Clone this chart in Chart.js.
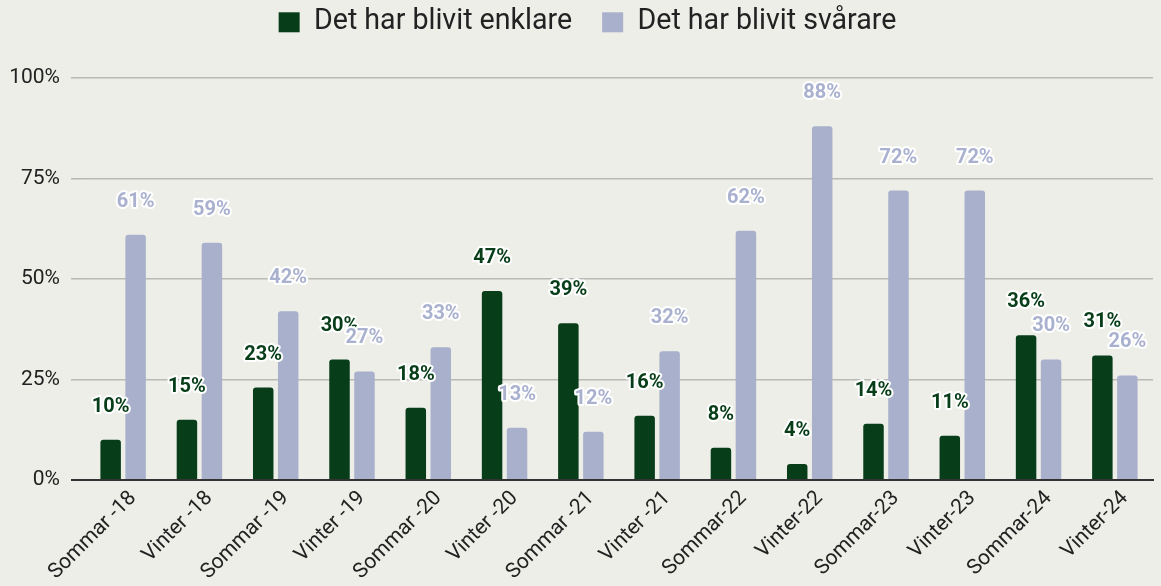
<!DOCTYPE html>
<html>
<head>
<meta charset="utf-8">
<script src="https://cdn.jsdelivr.net/npm/chart.js@4"></script>
<style>
  html, body { margin: 0; padding: 0; background: #eeeee8; }
  #wrap { width: 1161px; height: 586px; }
</style>
</head>
<body>
<div id="wrap"><canvas id="c"></canvas></div>
<script>
const categories = [
  "Sommar -18", "Vinter -18", "Sommar -19", "Vinter -19", "Sommar -20", "Vinter -20",
  "Sommar -21", "Vinter -21", "Sommar-22", "Vinter-22", "Sommar-23", "Vinter-23",
  "Sommar-24", "Vinter-24"
];
const enklare = [10, 15, 23, 30, 18, 47, 39, 16, 8, 4, 14, 11, 36, 31];
const svarare = [61, 59, 42, 27, 33, 13, 12, 32, 62, 88, 72, 72, 30, 26];
const yTicks = [0, 25, 50, 75, 100];

const green = "#073d18";
const lavender = "#a8b0cc";

// value labels with a white halo, drawn above each bar
const valueLabels = {
  id: "valueLabels",
  afterDatasetsDraw(chart) {
    const ctx = chart.ctx;
    ctx.save();
    ctx.font = "bold 20px Roboto";
    ctx.textAlign = "center";
    ctx.textBaseline = "middle";
    ctx.lineJoin = "round";
    chart.data.datasets.forEach((ds, i) => {
      const meta = chart.getDatasetMeta(i);
      meta.data.forEach((bar, j) => {
        const txt = ds.data[j] + "%";
        const y = bar.y - 33;
        ctx.strokeStyle = "#ffffff";
        ctx.lineWidth = 4;
        ctx.strokeText(txt, bar.x, y);
        ctx.fillStyle = ds.labelColor;
        ctx.fillText(txt, bar.x, y);
      });
    });
    ctx.restore();
  }
};

// taller legend box so the plot starts lower, nudged a bit right
const legendTweak = {
  id: "legendTweak",
  beforeInit(chart) {
    const fit = chart.legend.fit;
    chart.legend.fit = function () {
      fit.bind(chart.legend)();
      this.height = 100;
    };
  },
  afterLayout(chart) {
    chart.legend.left += 11;
    chart.legend.right += 11;
  }
};

new Chart(document.getElementById("c"), {
  type: "bar",
  data: {
    labels: categories,
    datasets: [
      {
        label: "Det har blivit enklare",
        data: enklare,
        backgroundColor: green,
        labelColor: green,
        borderRadius: 3,
        borderSkipped: "bottom",
        categoryPercentage: 0.655,
        barPercentage: 0.82,
      },
      {
        label: "Det har blivit svårare",
        data: svarare,
        backgroundColor: lavender,
        labelColor: "#a9b1cf",
        borderRadius: 3,
        borderSkipped: "bottom",
        categoryPercentage: 0.655,
        barPercentage: 0.82,
      },
    ],
  },
  options: {
    responsive: true,
    maintainAspectRatio: false,
    animation: false,
    layout: { padding: { left: 0, right: 8, top: -22, bottom: 0 } },
    scales: {
      x: {
        afterFit(axis) { axis.height = 106; },
        grid: { display: false, drawTicks: false },
        border: { color: "#333333", width: 2 },
        ticks: {
          minRotation: 45,
          maxRotation: 45,
          padding: 6,
          labelOffset: 10,
          color: "#222222",
          font: { family: "Roboto", size: 21 },
        },
      },
      y: {
        min: 0,
        max: 100,
        afterFit(axis) { axis.width = 85; },
        afterBuildTicks(axis) {
          axis.ticks = yTicks.map((v) => ({ value: v }));
        },
        grid: {
          color: (c) => (c.tick && c.tick.value === 0 ? "#333333" : "#b9b9b5"),
          lineWidth: (c) => (c.tick && c.tick.value === 0 ? 2 : 1.5),
          tickLength: 14,
        },
        border: { display: false },
        ticks: {
          padding: 11,
          color: "#222222",
          font: { family: "Roboto", size: 21 },
          callback: (v) => v + "%",
        },
      },
    },
    plugins: {
      legend: {
        display: true,
        position: "top",
        labels: {
          boxWidth: 21,
          boxHeight: 20,
          padding: 30,
          color: "#222222",
          font: { family: "Roboto", size: 28.6 },
        },
      },
      title: { display: false },
      tooltip: { enabled: false },
    },
  },
  plugins: [valueLabels, legendTweak],
});
</script>
</body>
</html>
